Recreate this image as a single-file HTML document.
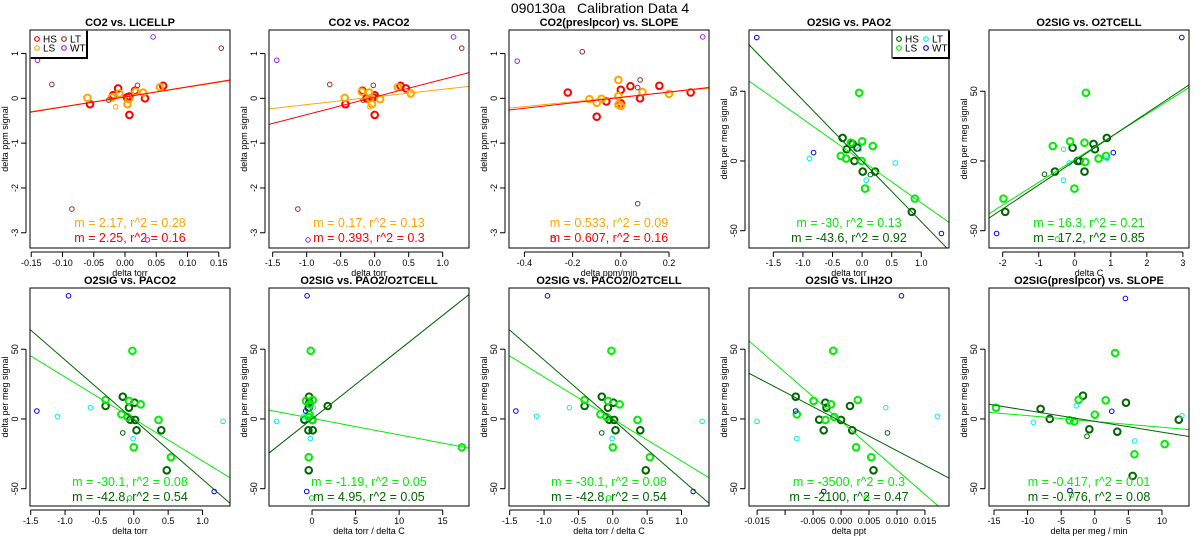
<!DOCTYPE html>
<html><head><meta charset="utf-8">
<style>
html,body{margin:0;padding:0;background:#fff;}
svg{display:block;font-family:"Liberation Sans",Arial,sans-serif;}
</style></head>
<body>
<svg id="chart" width="1200" height="550" viewBox="0 0 1200 550" xmlns="http://www.w3.org/2000/svg">
<rect width="1200" height="550" fill="#fff"/>
<text x="600" y="13" text-anchor="middle" font-size="14" style="white-space:pre">090130a   Calibration Data 4</text>
</svg>
<script>
// ---------- data ----------
const p1HS=[[-0.056,-0.13],[-0.019,0.07],[-0.011,0.22],[0.003,0.02],[0.007,0.04],[0.007,-0.37],[0.016,0.17],[0.032,0.0],[0.061,0.28]];
const p1LS=[[-0.060,0.01],[-0.021,0.02],[-0.009,0.11],[0.004,-0.13],[0.006,-0.02],[0.017,0.15],[0.029,0.13],[0.056,0.25]];
const p1LT=[[-0.117,0.31],[-0.026,-0.04],[0.020,0.29],[0.154,1.12],[-0.085,-2.47]];
const p1WT=[[-0.140,0.85],[0.045,1.37],[0.036,-3.16]];
const p1LSs=[[-0.015,-0.19]];
const p2HS=[[-0.43,-0.13],[-0.18,0.17],[-0.12,0],[-0.02,0.02],[0.0,0.07],[0.0,-0.37],[0.38,0.28],[0.46,0.22]];
const p2LS=[[-0.44,0.01],[-0.19,0.15],[-0.08,0.13],[-0.07,0],[-0.04,-0.13],[0.08,-0.02],[0.34,0.25],[0.53,0.11]];
const p2LT=[[-0.66,0.31],[-0.17,-0.04],[-0.02,0.29],[1.28,1.12],[-1.13,-2.47]];
const p2WT=[[-1.44,0.85],[1.16,1.37],[-0.98,-3.16]];
const p2LSs=[[-0.07,-0.19]];
const p3HS=[[-0.22,0.13],[-0.10,-0.41],[-0.06,-0.07],[0,0.19],[0,-0.11],[0.04,0.27],[0.08,0.0],[0.16,0.28],[0.29,0.13]];
const p3LS=[[-0.13,-0.02],[-0.10,-0.1],[-0.08,-0.01],[-0.01,0.05],[-0.01,0.41],[-0.01,-0.14],[0,-0.17],[0.09,0.14],[0.2,0.1]];
const p3LT=[[-0.16,1.04],[0.08,0.41],[0.07,0.24],[0.07,-2.35]];
const p3WT=[[-0.43,0.83],[0.34,1.37],[-0.28,-3.15]];
const p3LSs=[];
const p4HS=[[-0.33,16.5],[-0.26,8.4],[-0.16,12.2],[-0.13,0],[-0.08,9.5],[0.01,-7.6],[0.22,-7.6],[0.84,-36.5]];
const p4LS=[[-0.36,3.6],[-0.27,1.7],[-0.19,13.1],[-0.05,48.9],[-0.01,0],[0,14.1],[0.18,10.7],[0.05,-19.8],[0.89,-27]];
const p4LT=[[-0.89,1.9],[-0.05,8.4],[0.07,-13.8],[0.56,-1.4]];
const p4WT=[[-1.78,88.5],[-0.82,6],[1.34,-52]];
const p4HSs=[[0.14,-9.8]];
const p4LSs=[];
const p5HS=[[-1.93,-36.5],[-0.55,-7.6],[-0.06,9.5],[0.08,0],[0.13,0],[0.27,-7.6],[0.52,12.2],[0.56,8.4],[0.89,16.5]];
const p5LS=[[-1.98,-27],[-0.61,10.7],[-0.13,14.1],[-0.01,-19.8],[0.27,13.1],[0.29,-0.7],[0.31,48.9],[0.66,1.7],[0.87,3.6]];
const p5LT=[[-0.31,8.4],[-0.31,-13.8],[-0.15,-1.4],[0.89,1.9]];
const p5WT=[[-2.17,-52],[1.07,6],[2.97,88.5]];
const p5HSs=[[-0.84,-9.5]];
const p5LSs=[[-0.48,-56]];
const p6HS=[[-0.41,9.3],[-0.16,16],[-0.07,8.1],[-0.05,-0.5],[0.01,11.7],[0.02,-0.7],[0.04,-8.1],[0.40,-8.1],[0.48,-36.8]];
const p6LS=[[-0.41,13.6],[-0.18,3.3],[-0.09,1.4],[-0.07,12.9],[-0.02,48.9],[0,-20.3],[0.1,10.5],[0.36,-0.7],[0.54,-27.4]];
const p6LT=[[-1.11,1.9],[-0.63,8.1],[-0.01,-14.1],[1.30,-1.7]];
const p6WT=[[-1.41,5.7],[-0.95,88.3],[1.17,-52]];
const p6HSs=[[-0.16,-10]];
const p6LSs=[[-0.06,-56.6]];
const p7HS=[[-0.34,16],[-0.38,8.1],[-0.88,-0.5],[-0.42,-8.1],[0.08,-8.1],[-0.38,-36.8],[1.8,9.3],[-0.3,11.7],[0.04,-0.7]];
const p7LS=[[-0.69,12.9],[-0.3,3.3],[-0.38,1.4],[-0.15,48.9],[-0.23,10.5],[0.08,13.6],[0,-0.7],[-0.38,-27.4],[17.2,-20.3]];
const p7LT=[[-4.06,-1.7],[-0.96,1.9],[0.15,8.1],[-0.19,-14.1]];
const p7WT=[[-0.73,5.7],[-0.57,88.3],[-0.61,-52]];
const p7HSs=[];
const p7LSs=[[-0.04,-56.6]];
const p9HS=[[-0.0081,16],[-0.0039,-0.5],[-0.0031,-8.1],[-0.0028,11.7],[-0.0026,8.1],[0,-0.7],[0.0016,9.3],[0.002,-8.1],[0.0058,-36.8]];
const p9LS=[[-0.0079,3.3],[-0.0049,12.9],[-0.0028,-0.7],[-0.0018,10.5],[-0.0014,48.9],[-0.0012,1.4],[0.0027,-20.3],[0.003,13.6],[0.0054,-27.4]];
const p9LT=[[-0.015,-1.7],[-0.0079,-14.1],[0.008,8.1],[0.0172,1.9]];
const p9WT=[[-0.0081,5.7],[-0.0031,-52],[0.0108,88.3]];
const p9HSs=[[0.0083,-10]];
const p9LSs=[[0.0045,-56.6]];
const p10HS=[[-8.06,7.2],[-6.7,0],[-1.76,16.7],[-0.81,-7.4],[3.35,-9.1],[4.64,11.7],[5.64,-40.8],[12.5,-0.5]];
const p10LS=[[-14.7,8.1],[-3.74,-1],[-3.05,-1.7],[-2.4,13.8],[0,3.1],[1.63,13.4],[3.02,47.3],[5.9,-25.3],[10.4,-18]];
const p10LT=[[-9.15,-2.4],[-2.76,9.5],[5.93,-15.8],[12.97,2.4]];
const p10WT=[[2.53,5.5],[4.56,86.4],[-3.7,-51.3]];
const p10HSs=[[-1.16,-12.4]];
const p10LSs=[[-3.49,-54.4]];
const fitLS=[[2.17,0.03],[0.17,0.03],[0.533,0.03],[-30,0],[16.3,1],[-30.1,0],[-1.19,0.5],[-30.1,0],[-3500,-1.6],[-0.417,-1.8]];
const fitHS=[[2.25,0.03],[0.393,0.03],[0.607,0.02],[-43.6,0],[17.2,0],[-42.8,-0.5],[4.95,0],[-42.8,-0.5],[-2100,-1.8],[-0.776,-1.7]];
const textLS=["m = 2.17, r^2 = 0.28","m = 0.17, r^2 = 0.13","m = 0.533, r^2 = 0.09","m = -30, r^2 = 0.13","m = 16.3, r^2 = 0.21","m = -30.1, r^2 = 0.08","m = -1.19, r^2 = 0.05","m = -30.1, r^2 = 0.08","m = -3500, r^2 = 0.3","m = -0.417, r^2 = 0.01"];
const textHS=["m = 2.25, r^2 = 0.16","m = 0.393, r^2 = 0.3","m = 0.607, r^2 = 0.16","m = -43.6, r^2 = 0.92","m = 17.2, r^2 = 0.85","m = -42.8, r^2 = 0.54","m = 4.95, r^2 = 0.05","m = -42.8, r^2 = 0.54","m = -2100, r^2 = 0.47","m = -0.776, r^2 = 0.08"];
const titles=["CO2 vs. LICELLP","CO2 vs. PACO2","CO2(preslpcor) vs. SLOPE","O2SIG vs. PAO2","O2SIG vs. O2TCELL","O2SIG vs. PACO2","O2SIG vs. PAO2/O2TCELL","O2SIG vs. PACO2/O2TCELL","O2SIG vs. LIH2O","O2SIG(preslpcor) vs. SLOPE"];
const xTitles=["delta torr","delta torr","delta ppm/min","delta torr","delta C","delta torr","delta torr / delta C","delta torr / delta C","delta ppt","delta per meg / min"];
const xTicks=[[-0.15,-0.10,-0.05,0,0.05,0.10,0.15],[-1.5,-1,-0.5,0,0.5,1],[-0.4,-0.2,0,0.2],[-1.5,-1,-0.5,0,0.5,1],[-2,-1,0,1,2,3],[-1.5,-1,-0.5,0,0.5,1],[0,5,10,15],[-1.5,-1,-0.5,0,0.5,1],[-0.015,-0.010,-0.005,0,0.005,0.010,0.015],[-15,-10,-5,0,5,10]];
const xTickLabels=[["-0.15","-0.10","-0.05","0.00","0.05","0.10","0.15"],["-1.5","-1.0","-0.5","0.0","0.5","1.0"],["-0.4","-0.2","0.0","0.2"],["-1.5","-1.0","-0.5","0.0","0.5","1.0"],["-2","-1","0","1","2","3"],["-1.5","-1.0","-0.5","0.0","0.5","1.0"],["0","5","10","15"],["-1.5","-1.0","-0.5","0.0","0.5","1.0"],["-0.015","","-0.005","0.000","0.005","0.010","0.015"],["-15","-10","-5","0","5","10"]];
const xDomains=[[-0.152,0.168],[-1.554,1.387],[-0.464,0.366],[-1.911,1.468],[-2.38,3.17],[-1.51,1.40],[-4.94,18.02],[-1.51,1.40],[-0.01645,0.0193],[-15.74,14.02]];
const co2YTicks=[1,0,-1,-2,-3];
const o2YTicks=[50,0,-50];

// ---------- drawing ----------
const svg=document.getElementById('chart');
const NS='http://www.w3.org/2000/svg';
function mk(tag,attrs,parent){const e=document.createElementNS(NS,tag);for(const k in attrs)e.setAttribute(k,attrs[k]);(parent||svg).appendChild(e);return e;}
const panelData=[
 [p1HS,p1LS,p1LT,p1WT,[],p1LSs],[p2HS,p2LS,p2LT,p2WT,[],p2LSs],[p3HS,p3LS,p3LT,p3WT,[],p3LSs],
 [p4HS,p4LS,p4LT,p4WT,p4HSs,p4LSs],[p5HS,p5LS,p5LT,p5WT,p5HSs,p5LSs],
 [p6HS,p6LS,p6LT,p6WT,p6HSs,p6LSs],[p7HS,p7LS,p7LT,p7WT,p7HSs,p7LSs],
 [p6HS,p6LS,p6LT,p6WT,p6HSs,p6LSs],[p9HS,p9LS,p9LT,p9WT,p9HSs,p9LSs],[p10HS,p10LS,p10LT,p10WT,p10HSs,p10LSs]];
const colsX=[30,269,509,749,989];
const groupNames=['hs','ls','lt','wt','hs-small','ls-small'];
for(let i=0;i<10;i++){
  const row=i<5?0:1, col=i%5;
  const x0=colsX[col], x1=x0+200, y0=row?288:30, y1=y0+218;
  const co2=i<3;
  const yd=co2?[-3.34,1.525]:[-62.4,93.9];
  const xd=xDomains[i];
  const sx=v=>x0+(v-xd[0])/(xd[1]-xd[0])*200;
  const sy=v=>y1-(v-yd[0])/(yd[1]-yd[0])*218;
  const cols=co2?['#ff0000','#ffa500','#a52a2a','#a020f0','#ff0000','#ffa500']:['#006400','#00ee00','#00eeee','#0000ff','#006400','#00ee00'];
  const g=mk('g',{});
  
  
  const cp=mk('clipPath',{id:'cp'+i},g); mk('rect',{x:x0,y:y0,width:200,height:218},cp);
  const t=mk('text',{x:(x0+x1)/2,y:y0-4,'text-anchor':'middle','font-size':'11','font-weight':'bold'},g);
  t.textContent=titles[i];
  
  
  const tk=xTicks[i];
  const xa=mk('g',{},g);
  
  
  mk('line',{x1:sx(tk[0]),x2:sx(tk[tk.length-1]),y1:y1+4,y2:y1+4,stroke:'#000','stroke-width':1},xa);
  tk.forEach((v,j)=>{
    mk('line',{x1:sx(v),x2:sx(v),y1:y1+4,y2:y1+9,stroke:'#000'},xa);
    const l=mk('text',{x:sx(v),y:y1+18,'text-anchor':'middle','font-size':'9'},xa);
    l.textContent=xTickLabels[i][j];
  });
  const xt=mk('text',{x:(x0+x1)/2,y:row?534:276,'text-anchor':'middle','font-size':'9'},g);
  xt.textContent=xTitles[i];
  
  
  const yt=co2?co2YTicks:o2YTicks;
  const ya=mk('g',{},g);
  
  
  mk('line',{x1:x0-4,x2:x0-4,y1:sy(yt[0]),y2:sy(yt[yt.length-1]),stroke:'#000'},ya);
  yt.forEach(v=>{
    mk('line',{x1:x0-9,x2:x0-4,y1:sy(v),y2:sy(v),stroke:'#000'},ya);
    const l=mk('text',{x:0,y:0,'text-anchor':'middle','font-size':'9',transform:`translate(${x0-12},${sy(v)}) rotate(-90)`},ya);
    l.textContent=String(v);
  });
  const ytt=mk('text',{x:0,y:0,'text-anchor':'middle','font-size':'9',transform:`translate(${x0-22},${(y0+y1)/2}) rotate(-90)`},g);
  ytt.textContent=co2?'delta ppm signal':'delta per meg signal';
  
  
  const pts=mk('g',{'clip-path':`url(#cp${i})`},g);
  panelData[i].forEach((arr,gi)=>{
    const thick=gi<2;
    arr.forEach(p=>{
      const c=mk('circle',{cx:sx(p[0]),cy:sy(p[1]),r:thick?3.3:2.3,fill:'none',stroke:cols[gi],'stroke-width':thick?2:1},pts);
      
      
    });
  });
  [[fitLS[i],cols[1]],[fitHS[i],cols[0]]].forEach((f,k)=>{
    const [m,b]=f[0];
    const ln=mk('line',{x1:sx(xd[0]),y1:sy(m*xd[0]+b),x2:sx(xd[1]),y2:sy(m*xd[1]+b),stroke:f[1],'stroke-width':1,'clip-path':`url(#cp${i})`},g);
    
    
  });
  const ty=row?486:227;
  const a=mk('text',{x:(x0+x1)/2,y:ty,'text-anchor':'middle','font-size':'12.5',fill:cols[1]},g);
  a.textContent=textLS[i];
  
  
  const b=mk('text',{x:(x0+x1)/2,y:ty+15,'text-anchor':'middle','font-size':'12.5',fill:cols[0]},g);
  b.textContent=textHS[i];
  
  
  const fr=mk('rect',{x:x0,y:y0,width:200,height:218,fill:'none',stroke:'#000','stroke-width':1},g);
  
  
  if(i===0||i===3){
    const lx=i===0?x0:x1-57;
    const lg=mk('g',{},g);
    
    
    mk('rect',{x:lx,y:y0,width:57,height:28,fill:'#fff',stroke:'#000','stroke-width':1},lg);
    mk('polyline',{points:`${lx+57},${y0+1} ${lx+57},${y0+28} ${lx+1},${y0+28}`,fill:'none',stroke:'#000','stroke-width':2},lg);
    const labs=['HS','LS','LT','WT'];
    const pos=[[0,0],[0,1],[1,0],[1,1]];
    labs.forEach((s,k)=>{
      const ex=lx+7+pos[k][0]*27, ey=y0+9+pos[k][1]*9;
      const e=mk('g',{},lg);
      
      
      mk('circle',{cx:ex,cy:ey,r:2.3,fill:'none',stroke:cols[k],'stroke-width':1.2},e);
      const tx=mk('text',{x:ex+6,y:ey+3.5,'font-size':'10'},e);
      tx.textContent=s;
    });
  }
}
</script>
</body></html>
